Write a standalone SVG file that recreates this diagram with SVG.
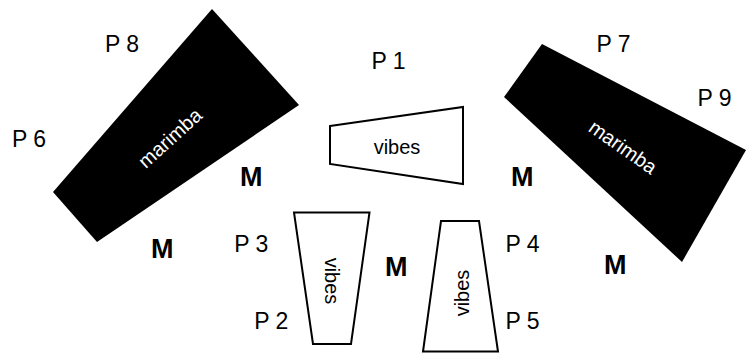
<svg xmlns="http://www.w3.org/2000/svg" width="746" height="354" viewBox="0 0 746 354">
<style>
.lbl{font-family:"Liberation Sans",Arial,Helvetica,sans-serif;font-size:23px;fill:#000}
.m{font-family:"Liberation Sans",Arial,Helvetica,sans-serif;font-size:27px;font-weight:bold;fill:#000}
.marimba{fill:#000;stroke:none}
.mtxt{font-family:"Liberation Sans",Arial,Helvetica,sans-serif;font-size:20px;fill:#fff;text-anchor:middle}
.vibes{fill:#fff;stroke:#000;stroke-width:2;stroke-linejoin:miter}
.vtxt{font-family:"Liberation Sans",Arial,Helvetica,sans-serif;font-size:20px;fill:#000;text-anchor:middle}
</style>
<rect width="746" height="354" fill="#fff"/>
<g id="marimba-left">
<polygon class="marimba" points="212,9 299,105 97,242 53,192"/>
<text class="mtxt" transform="translate(170,138) rotate(-42)" y="7">marimba</text>
</g>
<g id="marimba-right">
<polygon class="marimba" points="542,44 746,150 682,262 504,97"/>
<text class="mtxt" transform="translate(623,147) rotate(35)" y="7">marimba</text>
</g>
<g id="vibes-top">
<polygon class="vibes" points="330,126 463,107 463,184 330,164"/>
<text class="vtxt" x="397" y="154">vibes</text>
</g>
<g id="vibes-left">
<polygon class="vibes" points="294,212.5 369.5,212.5 351,344 313,344"/>
<text class="vtxt" transform="translate(325,281) rotate(90)">vibes</text>
</g>
<g id="vibes-right">
<polygon class="vibes" points="441,221 479,221 498,351.5 423,351.5"/>
<text class="vtxt" transform="translate(469,293) rotate(-90)">vibes</text>
</g>
<g id="labels">
<text class="lbl" x="105" y="52">P 8</text>
<text class="lbl" x="12" y="147">P 6</text>
<text class="lbl" x="371.5" y="68.5">P 1</text>
<text class="lbl" x="596.5" y="52">P 7</text>
<text class="lbl" x="697.5" y="106">P 9</text>
<text class="lbl" x="234.3" y="252">P 3</text>
<text class="lbl" x="254.3" y="328.5">P 2</text>
<text class="lbl" x="505.5" y="252">P 4</text>
<text class="lbl" x="505.5" y="329">P 5</text>
<text class="m" x="240" y="186">M</text>
<text class="m" x="151" y="257.5">M</text>
<text class="m" x="385" y="276">M</text>
<text class="m" x="511" y="185.5">M</text>
<text class="m" x="604" y="274">M</text>
</g>
</svg>
